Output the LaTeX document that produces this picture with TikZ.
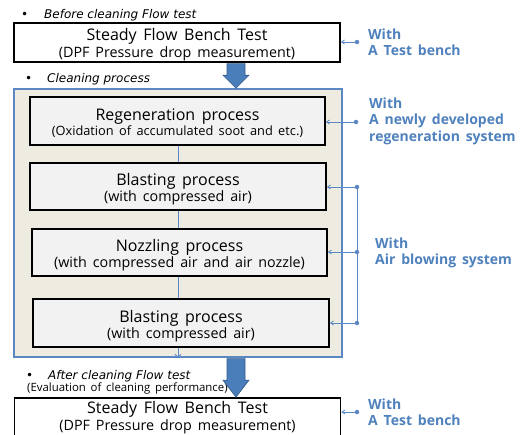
\documentclass[tikz,border=0pt]{standalone}
\usepackage{fontspec}
\setmainfont{Open Sans}[WordSpace=1.6]
\newfontfamily\headfont{DejaVu Sans}
\usetikzlibrary{arrows.meta,calc}
\definecolor{bluetxt}{HTML}{4F81BD}
\definecolor{blueline}{HTML}{5B87C4}
\definecolor{bigarrow}{HTML}{4A7EBB}
\definecolor{bigarrowb}{HTML}{385D8A}
\definecolor{beige}{HTML}{EEECE1}
\definecolor{boxgray}{HTML}{F2F2F2}
\newcommand{\nolsk}{\lineskiplimit=-30pt\relax}
\tikzset{
  mainbox/.style={draw=black, line width=1.6pt, fill=white, minimum width=326pt, minimum height=39pt, inner sep=0pt},
  procbox/.style={draw=black, line width=1.6pt, fill=boxgray, minimum width=295pt, minimum height=47pt, inner sep=0pt},
  outerbox/.style={draw=blueline, line width=1.6pt, fill=beige, minimum width=328pt, minimum height=268pt, inner sep=0pt},
  maintext/.style={align=center, inner sep=0pt, font=\fontsize{16}{17}\selectfont\nolsk},
  proctext/.style={align=center, inner sep=0pt, font=\fontsize{16}{15.5}\selectfont\nolsk},
  note/.style={text=bluetxt, font=\bfseries\fontsize{14}{16.5}\selectfont, align=left, anchor=west, inner sep=0pt},
  heading/.style={font=\headfont\itshape\fontsize{12}{12}\selectfont, anchor=west, inner sep=0pt},
  inner/.style={draw=blueline, line width=0.8pt},
  link/.style={draw=blueline, line width=0.8pt, -{Straight Barb[length=3pt,width=4pt]}},
  dot/.style={circle, fill=blueline, inner sep=0pt, minimum size=4.5pt},
  big/.style={fill=bigarrow, draw=bigarrowb, line width=0.6pt}
}
\newcommand{\mainsub}[1]{{\fontsize{14.3}{16}\selectfont #1}}
\newcommand{\subtitle}[1]{{\fontsize{12.8}{15}\selectfont #1}}
\begin{document}
\begin{tikzpicture}[x=1pt,y=-1pt]
\useasboundingbox (0,0) rectangle (524,434);

% headings
\node[heading] (h1b) at (21,15) {\textbullet};
\node[heading] (h1) at (44,15) {Before cleaning Flow test};
\node[heading] (h2b) at (25,79) {\textbullet};
\node[heading] (h2) at (47,79) {Cleaning process};
\node[heading] (h3b) at (26,376) {\textbullet};
\node[heading] (h3) at (48,376) {After cleaning Flow test};
\node[anchor=west, inner sep=0pt, font=\fontsize{11.4}{12}\selectfont] (h3s) at (27,388.5) {(Evaluation of cleaning performance)};

% outer box
\node[outerbox] (outer) at (178,223) {};

% main boxes
\node[mainbox] (top) at (177,42.5) {};
\node[maintext] (topt) at ($(top.center)+(0,2.5)$) {Steady Flow Bench Test\\\mainsub{(DPF Pressure drop measurement)}};
\node[mainbox, minimum height=44pt] (bot) at (177.5,420) {};
\node[maintext] (bott) at (177.5,417.3) {Steady Flow Bench Test\\\mainsub{(DPF Pressure drop measurement)}};

% process boxes
\node[procbox, minimum height=48pt] (regen) at (177.5,121) {};
\node[proctext] (regent) at ($(regen.center)+(0,2)$) {Regeneration process\\\subtitle{(Oxidation of accumulated soot and etc.)}};
\node[procbox, minimum width=296pt] (blast1) at (178,186.5) {};
\node[proctext] (blast1t) at ($(blast1.center)+(0,2.5)$) {Blasting process\\\mainsub{(with compressed air)}};
\node[procbox] (nozzle) at (179.5,252.5) {};
\node[proctext] (nozzlet) at ($(nozzle.center)+(0,2.5)$) {Nozzling process\\\mainsub{(with compressed air and air nozzle)}};
\node[procbox, minimum width=296pt, minimum height=48pt] (blast2) at (181,323) {};
\node[proctext] (blast2t) at ($(blast2.center)+(0,3)$) {Blasting process\\\mainsub{(with compressed air)}};

% inner connectors
\coordinate (cx) at (178,0);
\draw[inner] (regen.south -| cx) -- (blast1.north -| cx);
\draw[inner] (blast1.south -| cx) -- (nozzle.north -| cx);
\draw[inner] (nozzle.south -| cx) -- (blast2.north -| cx);
\draw[inner, -{Straight Barb[length=3pt,width=6pt]}] (blast2.south -| cx) -- (outer.south -| cx);

% big arrows
\coordinate (ax) at (236,0);
\path[big] ($(top.south -| ax)+(-9,0.8)$) -- ($(top.south -| ax)+(9,0.8)$) -- ($(outer.north -| ax)+(9,-13)$) -- ($(outer.north -| ax)+(13,-13)$) -- ($(outer.north -| ax)+(0,0)$) -- ($(outer.north -| ax)+(-13,-13)$) -- ($(outer.north -| ax)+(-9,-13)$) -- cycle;
\path[big] ($(outer.south -| ax)+(-9,0.8)$) -- ($(outer.south -| ax)+(9,0.8)$) -- ($(bot.north -| ax)+(9,-17)$) -- ($(bot.north -| ax)+(13,-17)$) -- ($(bot.north -| ax)+(0,0)$) -- ($(bot.north -| ax)+(-13,-17)$) -- ($(bot.north -| ax)+(-9,-17)$) -- cycle;

% right annotations
\node[dot] (d1) at (357,42) {};
\draw[link] (d1) -- (d1 -| top.east);
\node[note] (n1) at (368,42) {With\\A Test bench};

\node[dot] (d2) at (356,122) {};
\draw[link] (d2) -- (d2 -| regen.east);
\node[note] (n2) at (369,121) {With\\A newly developed\\regeneration system};

\node[dot] (d3) at (357,187) {};
\node[dot] (d4) at (357,252) {};
\node[dot] (d5) at (357,323) {};
\draw[inner] (d3.center) -- (d5.center);
\draw[link] (d3) -- (d3 -| blast1.east);
\draw[link] (d4) -- (d4 -| nozzle.east);
\draw[link] (d5) -- (d5 -| blast2.east);
\node[note] (n3) at (375,253) {With\\Air blowing system};

\node[dot] (d6) at (357,412) {};
\draw[link] (d6) -- (d6 -| bot.east);
\node[note] (n4) at (368,412) {With\\A Test bench};
\end{tikzpicture}
\end{document}
